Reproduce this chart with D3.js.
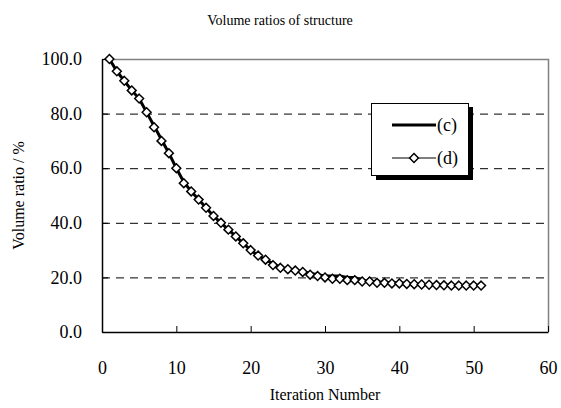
<!DOCTYPE html>
<html><head><meta charset="utf-8">
<script src="https://cdn.jsdelivr.net/npm/d3@7/dist/d3.min.js"></script>
<style>body{margin:0;background:#fff}svg{display:block}text{font-family:"Liberation Serif","Times New Roman",Times,"DejaVu Serif",serif;fill:#000}</style>
</head><body>
<svg id="c" width="561" height="408"></svg>
<script>
const iterations = d3.range(1, 52);
const seriesC = [100,95.5,92,88.5,85.5,80.5,75.5,70.5,65.5,60,55,51.5,48.5,45.5,42.5,40,37.5,35,32.5,30,28,26.5,25,23.5,23,22.5,22,21.5,21,20.5,20.5,20.5,20,20,19,18.5,18.5,18,18,18,17.8,17.6,17.5,17.3,17.2,17.1,17,17,17,17,17.2];
const seriesD = [100,95.5,92,88.5,85.5,80.5,75,70,65.5,60,54.5,51.5,48.5,45.5,42.5,40,37.5,35,32.5,30,28,26.5,24.5,23.5,23,22.5,22,21,20.5,20,19.5,19.5,19,19,18.5,18.5,18,18,17.8,17.8,17.6,17.5,17.4,17.3,17.2,17.1,17,17,17,17,17];
const xTicks = [0,10,20,30,40,50,60];
const yTicks = [0,20,40,60,80,100];
const legendLabels = ["(c)","(d)"];
const title = "Volume ratios of structure";
const xTitle = "Iteration Number";
const yTitle = "Volume ratio / %";

const svg = d3.select("#c");
const L=102, R=548, T=59, B=332;
const x = d3.scaleLinear().domain([0,60]).range([L,R]);
const y = d3.scaleLinear().domain([0,100]).range([B,T]);

// gridlines
svg.append("g").selectAll("line").data(yTicks.filter(v=>v>0&&v<100)).join("line")
  .attr("x1",L).attr("x2",R).attr("y1",d=>y(d)+0.5).attr("y2",d=>y(d)+0.5)
  .attr("stroke","#000").attr("stroke-width",1).attr("stroke-dasharray","8,6");
// plot border top/right gray
svg.append("path").attr("d",`M${L},${T+0.5}H${R+0.5}V${B}`).attr("fill","none").attr("stroke","#808080").attr("stroke-width",1.5);

// axes
const xAxis = d3.axisBottom(x).tickValues(xTicks).tickSizeInner(-6).tickSizeOuter(0).tickPadding(29);
const gx = svg.append("g").attr("transform",`translate(0,${B})`).call(xAxis);
const yAxis = d3.axisLeft(y).tickValues(yTicks).tickFormat(d3.format(".1f")).tickSizeInner(-6).tickSizeOuter(0).tickPadding(20);
const gy = svg.append("g").attr("transform",`translate(${L},0)`).call(yAxis);
[gx,gy].forEach(g=>{g.attr("font-family",null);
  g.select(".domain").attr("stroke","#000").attr("stroke-width",1.5);
  g.selectAll(".tick line").attr("stroke","#000");
  g.selectAll("text").attr("font-size",18);});
gx.selectAll("text").attr("dy","0.71em");

// series c thick line
const line = d3.line().x((d,i)=>x(iterations[i])).y(d=>y(d));
svg.append("path").datum(seriesC).attr("d",line).attr("fill","none").attr("stroke","#000").attr("stroke-width",3);
// series d thin line with diamonds
svg.append("path").datum(seriesD).attr("d",line).attr("fill","none").attr("stroke","#000").attr("stroke-width",1);
const diamond = d3.symbol().type(d3.symbolDiamond2).size(50);
svg.append("g").selectAll("path").data(seriesD).join("path")
  .attr("transform",(d,i)=>`translate(${x(iterations[i])},${y(d)})`)
  .attr("d",diamond).attr("fill","#fff").attr("stroke","#000").attr("stroke-width",1.5);

// legend
const lg = svg.append("g");
lg.append("rect").attr("x",376).attr("y",107).attr("width",97).attr("height",73).attr("fill","#000");
lg.append("rect").attr("x",371.5).attr("y",103.5).attr("width",97).attr("height",72).attr("fill","#fff").attr("stroke","#000").attr("stroke-width",1);
lg.append("line").attr("x1",392).attr("x2",436).attr("y1",125).attr("y2",125).attr("stroke","#000").attr("stroke-width",3);
lg.append("line").attr("x1",392).attr("x2",436).attr("y1",158).attr("y2",158).attr("stroke","#000").attr("stroke-width",1);
lg.append("path").attr("transform","translate(414,158)").attr("d",diamond).attr("fill","#fff").attr("stroke","#000").attr("stroke-width",1.5);
lg.selectAll("text").data(legendLabels).join("text").attr("x",437).attr("y",(d,i)=>[125,158][i]).attr("dy","0.35em")
  .attr("font-size",18).text(d=>d);

// titles
svg.append("text").attr("x",280).attr("y",25).attr("text-anchor","middle").attr("font-size",14).text(title);
svg.append("text").attr("x",(L+R)/2).attr("y",400).attr("text-anchor","middle").attr("font-size",16).text(xTitle);
svg.append("text").attr("transform",`translate(24,${(T+B)/2}) rotate(-90)`).attr("text-anchor","middle").attr("font-size",16).text(yTitle);
</script>
</body></html>
